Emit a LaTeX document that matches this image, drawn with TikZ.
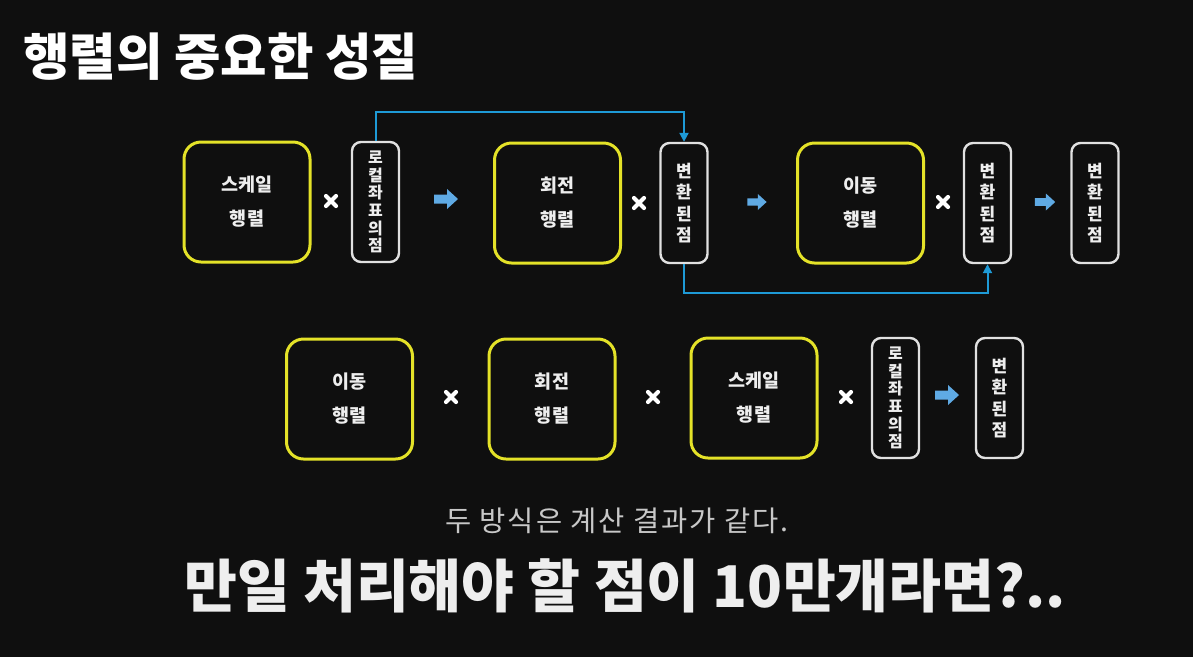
\documentclass[tikz,border=0pt]{standalone}
\usepackage{fontspec}
\newfontfamily\kr{Noto Sans CJK KR}
\newfontfamily\krsp[LetterSpace=7]{Noto Sans CJK KR}
\usetikzlibrary{arrows.meta}
\definecolor{bg}{RGB}{15,15,15}
\definecolor{ybox}{RGB}{228,226,40}
\definecolor{wbox}{RGB}{225,225,225}
\definecolor{txt}{RGB}{238,238,238}
\definecolor{conn}{RGB}{30,154,214}
\definecolor{barrowc}{RGB}{95,170,228}
\definecolor{subc}{RGB}{200,200,200}
\tikzset{
  matbox/.style={draw=ybox, line width=3pt, rounded corners=17pt, minimum width=126pt, minimum height=120pt, inner sep=0pt, align=center, text=txt, font=\kr\bfseries\fontsize{18.5}{34}\selectfont},
  ptbox/.style={draw=wbox, line width=2.4pt, rounded corners=9pt, minimum width=47pt, minimum height=120pt, inner sep=0pt, align=center, text=txt},
  loc/.style={ptbox, font=\kr\bfseries\fontsize{16}{17.6}\selectfont},
  trn/.style={ptbox, font=\kr\bfseries\fontsize{17}{21.5}\selectfont},
  connline/.style={draw=conn, line width=2pt, -{Triangle[length=9pt,width=9pt]}},
  pics/mulx/.style={code={\draw[white, line width=4.2pt, line cap=round] (-5,-5)--(5,5) (-5,5)--(5,-5);}},
  pics/barrow/.style={code={\fill[barrowc] (-12,-4.5) -- (1,-4.5) -- (1,-10) -- (12,0) -- (1,10) -- (1,4.5) -- (-12,4.5) -- cycle;}},
}
\begin{document}
\begin{tikzpicture}[x=1pt,y=-1pt]
\fill[bg] (0,0) rectangle (1193,657);
\useasboundingbox (0,0) rectangle (1193,657);
\node[anchor=west, text=white, font=\kr\bfseries\fontsize{50.5}{54}\selectfont] (title) at (20,57) {행렬의 중요한 성질};
% row 1
\node[matbox] (s1) at (247,202) {스케일\\행렬};
\pic at (331,201) {mulx};
\node[loc] (l1) at (375.5,202) {로\\컬\\좌\\표\\의\\점};
\pic[scale=1] at (446,199) {barrow};
\node[matbox] (r1) at (557.5,203) {회전\\행렬};
\pic at (639,203) {mulx};
\node[trn] (t1) at (684,203) {변\\환\\된\\점};
\pic[scale=0.8] at (757,202) {barrow};
\node[matbox] (m1) at (860.5,203) {이동\\행렬};
\pic at (943,202) {mulx};
\node[trn] (t2) at (987.5,203) {변\\환\\된\\점};
\pic[scale=0.85] at (1045,202) {barrow};
\node[trn] (t3) at (1095,203) {변\\환\\된\\점};
\draw[connline] (l1.north) -- ++(0,-29) -| (t1.north);
\draw[connline] (t1.south) -- ++(0,29) -| (t2.south);
% row 2
\node[matbox] (m2) at (349.5,399) {이동\\행렬};
\pic at (451,397) {mulx};
\node[matbox] (r2) at (552,399) {회전\\행렬};
\pic at (653,397) {mulx};
\node[matbox] (s2) at (754,398) {스케일\\행렬};
\pic at (846,397) {mulx};
\node[loc] (l2) at (895.5,398) {로\\컬\\좌\\표\\의\\점};
\pic at (947,395) {barrow};
\node[trn] (t4) at (999.5,398) {변\\환\\된\\점};
% texts
\node[text=subc, font=\krsp\fontsize{28.5}{30}\selectfont] (sub) at (617,521) {두 방식은 계산 결과가 같다.};
\node[text=txt, font=\kr\bfseries\fontsize{57.5}{60}\selectfont] (q) at (625,586) {만일 처리해야 할 점이 10만개라면?..};
\end{tikzpicture}
\end{document}
